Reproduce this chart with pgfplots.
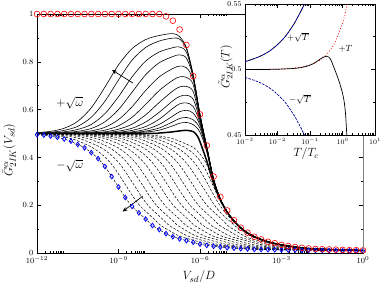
\documentclass[border=0pt]{standalone}
\usepackage{pgfplots}
\pgfplotsset{compat=1.18}
\usetikzlibrary{arrows.meta}
\begin{document}
\begin{tikzpicture}
\useasboundingbox (-37bp,-33bp) rectangle (345bp,253bp);
\begin{axis}[
  at={(0bp,0bp)}, anchor=south west, scale only axis,
  width=326bp, height=239bp,
  xmin=-12, xmax=0, ymin=0, ymax=1,
  axis line style={line width=0.7pt},
  xtick={-12,-9,-6,-3,0},
  xticklabels={$10^{-12}$,$10^{-9}$,$10^{-6}$,$10^{-3}$,$10^{0}$},
  minor xtick={-11.699,-11.523,-11.398,-11.301,-11.222,-11.155,-11.097,-11.046,
    -8.699,-8.523,-8.398,-8.301,-8.222,-8.155,-8.097,-8.046,
    -5.699,-5.523,-5.398,-5.301,-5.222,-5.155,-5.097,-5.046,
    -2.699,-2.523,-2.398,-2.301,-2.222,-2.155,-2.097,-2.046},
  ytick={0,0.2,0.4,0.6,0.8,1},
  yticklabels={0,0.2,0.4,0.6,0.8,1},
  minor ytick={0.1,0.3,0.5,0.7,0.9},
  major tick length=4bp, minor tick length=2bp,
  tick style={line width=0.5pt, black},
  tick label style={font=\fontsize{8}{9}\selectfont},
  xlabel={$V_{sd}/D$}, ylabel={$\bar{G}^{\alpha}_{2IK}(V_{sd})$},
  label style={font=\fontsize{13}{15}\selectfont},
  xlabel style={at={(axis description cs:0.497,-0.1)}, anchor=center},
  ylabel style={at={(axis description cs:-0.085,0.43)}, anchor=center},
]
% ---- dashed family (-sqrt omega)
\pgfplotsset{dsh/.style={black, line width=0.5pt, dash pattern=on 2.5pt off 1.6pt, smooth}}
\addplot[dsh] coordinates {(-12,0.495) (-11.5,0.489) (-11,0.477) (-10.5,0.454) (-10.25,0.44) (-10,0.42) (-9.75,0.395) (-9.5,0.362) (-9.25,0.32) (-9,0.276) (-8.75,0.232) (-8.5,0.195) (-8.25,0.168) (-8,0.142) (-7.75,0.115) (-7.5,0.098) (-7.25,0.081) (-7,0.068) (-6.5,0.052) (-6,0.037) (-5.5,0.028) (-5,0.022) (-4.5,0.018) (-4,0.015) (-3,0.013) (-2,0.011) (-1,0.010) (0,0.009)};
\addplot[dsh] coordinates {(-12,0.4965) (-11.69,0.495) (-11.19,0.489) (-10.69,0.477) (-10.19,0.454) (-9.94,0.44) (-9.69,0.42) (-9.44,0.395) (-9.19,0.362) (-8.94,0.32) (-8.69,0.276) (-8.44,0.232) (-8.19,0.195) (-7.94,0.168) (-7.69,0.142) (-7.44,0.115) (-7.19,0.098) (-6.94,0.081) (-6.69,0.068) (-6.19,0.052) (-5.69,0.037) (-5.19,0.028) (-4.69,0.022) (-4.19,0.018) (-3.69,0.015) (-2.69,0.013) (-1.69,0.011) (-0.69,0.010) (0,0.0097)};
\addplot[dsh] coordinates {(-12,0.4975) (-11.88,0.497) (-11.38,0.495) (-10.88,0.489) (-10.38,0.477) (-9.88,0.454) (-9.63,0.44) (-9.38,0.42) (-9.13,0.395) (-8.88,0.362) (-8.63,0.32) (-8.38,0.276) (-8.13,0.232) (-7.88,0.195) (-7.63,0.168) (-7.38,0.142) (-7.13,0.115) (-6.88,0.098) (-6.63,0.081) (-6.38,0.068) (-5.88,0.052) (-5.38,0.037) (-4.88,0.028) (-4.38,0.022) (-3.88,0.018) (-3.38,0.015) (-2.38,0.013) (-1.38,0.011) (-0.38,0.010) (0,0.0096)};
\addplot[dsh] coordinates {(-12,0.4987) (-11.57,0.497) (-11.07,0.495) (-10.57,0.489) (-10.07,0.477) (-9.57,0.454) (-9.32,0.44) (-9.07,0.42) (-8.82,0.395) (-8.57,0.362) (-8.32,0.32) (-8.07,0.276) (-7.82,0.232) (-7.57,0.195) (-7.32,0.168) (-7.07,0.142) (-6.82,0.115) (-6.57,0.098) (-6.32,0.081) (-6.07,0.068) (-5.57,0.052) (-5.07,0.037) (-4.57,0.028) (-4.07,0.022) (-3.57,0.018) (-3.07,0.015) (-2.07,0.013) (-1.07,0.011) (0,0.0099)};
\addplot[dsh] coordinates {(-12,0.4998) (-11.76,0.499) (-11.26,0.497) (-10.76,0.495) (-10.26,0.489) (-9.76,0.477) (-9.26,0.454) (-9.01,0.44) (-8.76,0.42) (-8.51,0.395) (-8.26,0.362) (-8.01,0.32) (-7.76,0.276) (-7.51,0.232) (-7.26,0.195) (-7.01,0.168) (-6.76,0.142) (-6.51,0.115) (-6.26,0.098) (-6.01,0.081) (-5.76,0.068) (-5.26,0.052) (-4.76,0.037) (-4.26,0.028) (-3.76,0.022) (-3.26,0.018) (-2.76,0.015) (-1.76,0.013) (-0.76,0.011) (0,0.0102)};
\addplot[dsh] coordinates {(-12,0.4995) (-11.45,0.499) (-10.95,0.497) (-10.45,0.495) (-9.95,0.489) (-9.45,0.477) (-8.95,0.454) (-8.7,0.44) (-8.45,0.42) (-8.2,0.395) (-7.95,0.362) (-7.7,0.32) (-7.45,0.276) (-7.2,0.232) (-6.95,0.195) (-6.7,0.168) (-6.45,0.142) (-6.2,0.115) (-5.95,0.098) (-5.7,0.081) (-5.45,0.068) (-4.95,0.052) (-4.45,0.037) (-3.95,0.028) (-3.45,0.022) (-2.95,0.018) (-2.45,0.015) (-1.45,0.013) (-0.45,0.011) (0,0.0105)};
\addplot[dsh] coordinates {(-12,0.4999) (-11.14,0.499) (-10.64,0.497) (-10.14,0.495) (-9.64,0.489) (-9.14,0.477) (-8.64,0.454) (-8.39,0.44) (-8.14,0.42) (-7.89,0.395) (-7.64,0.362) (-7.39,0.32) (-7.14,0.276) (-6.89,0.232) (-6.64,0.195) (-6.39,0.168) (-6.14,0.142) (-5.89,0.115) (-5.64,0.098) (-5.39,0.081) (-5.14,0.068) (-4.64,0.052) (-4.14,0.037) (-3.64,0.028) (-3.14,0.022) (-2.64,0.018) (-2.14,0.015) (-1.14,0.013) (0,0.011)};
\addplot[dsh] coordinates {(-12,0.5) (-10.83,0.499) (-10.33,0.497) (-9.83,0.495) (-9.33,0.489) (-8.83,0.477) (-8.33,0.454) (-8.08,0.44) (-7.83,0.42) (-7.58,0.395) (-7.33,0.362) (-7.08,0.32) (-6.83,0.276) (-6.58,0.232) (-6.33,0.195) (-6.08,0.168) (-5.83,0.142) (-5.58,0.115) (-5.33,0.098) (-5.08,0.081) (-4.83,0.068) (-4.33,0.052) (-3.83,0.037) (-3.33,0.028) (-2.83,0.022) (-2.33,0.018) (-1.83,0.0145) (-0.83,0.0125) (0,0.0105)};
\addplot[dsh] coordinates {(-12,0.5) (-10.52,0.499) (-10.02,0.497) (-9.52,0.495) (-9.02,0.489) (-8.52,0.477) (-8.02,0.454) (-7.77,0.44) (-7.52,0.42) (-7.27,0.395) (-7.02,0.362) (-6.77,0.32) (-6.52,0.276) (-6.27,0.232) (-6.02,0.195) (-5.77,0.168) (-5.52,0.142) (-5.27,0.115) (-5.02,0.098) (-4.77,0.081) (-4.52,0.066) (-4.02,0.05) (-3.52,0.036) (-3.02,0.027) (-2.52,0.0205) (-2.02,0.0165) (-1.52,0.0143) (-0.52,0.0115) (0,0.0105)};
\addplot[dsh] coordinates {(-12,0.5) (-10.21,0.499) (-9.71,0.497) (-9.21,0.495) (-8.71,0.489) (-8.21,0.477) (-7.71,0.454) (-7.46,0.44) (-7.21,0.42) (-6.96,0.395) (-6.71,0.362) (-6.46,0.32) (-6.21,0.276) (-5.96,0.232) (-5.71,0.195) (-5.46,0.168) (-5.21,0.142) (-4.96,0.113) (-4.71,0.095) (-4.46,0.077) (-4.21,0.063) (-3.71,0.048) (-3.21,0.0345) (-2.71,0.026) (-2.21,0.02) (-1.71,0.0162) (-1.21,0.0138) (-0.21,0.0108) (0,0.0105)};
\addplot[dsh] coordinates {(-12,0.5) (-10.9,0.5) (-9.9,0.499) (-9.4,0.497) (-8.9,0.495) (-8.4,0.489) (-7.9,0.477) (-7.4,0.454) (-7.15,0.44) (-6.9,0.42) (-6.65,0.395) (-6.4,0.362) (-6.15,0.32) (-5.9,0.276) (-5.65,0.232) (-5.4,0.19) (-5.15,0.158) (-4.9,0.133) (-4.65,0.108) (-4.4,0.09) (-4.15,0.072) (-3.9,0.059) (-3.4,0.042) (-2.9,0.031) (-2.4,0.0232) (-1.9,0.018) (-1.4,0.0153) (-0.9,0.0133) (0,0.0108)};
\addplot[dsh] coordinates {(-12,0.5) (-10.59,0.5) (-9.59,0.499) (-9.09,0.497) (-8.59,0.495) (-8.09,0.489) (-7.59,0.477) (-7.09,0.454) (-6.84,0.44) (-6.59,0.42) (-6.34,0.395) (-6.09,0.36) (-5.84,0.315) (-5.59,0.262) (-5.34,0.212) (-5.09,0.172) (-4.84,0.14) (-4.59,0.113) (-4.34,0.09) (-4.09,0.073) (-3.5,0.046) (-3,0.0335) (-2,0.0188) (-1,0.0139) (0,0.0109)};
\addplot[dsh] coordinates {(-12,0.5) (-10.28,0.5) (-9.28,0.499) (-8.78,0.497) (-8.28,0.495) (-7.78,0.489) (-7.28,0.477) (-6.78,0.454) (-6.53,0.44) (-6.28,0.42) (-6.03,0.39) (-5.78,0.345) (-5.53,0.285) (-5.28,0.222) (-5,0.169) (-4.75,0.132) (-4.5,0.104) (-4.25,0.083) (-4,0.0675) (-3.5,0.0465) (-3,0.0337) (-2,0.0189) (-1,0.0139) (0,0.011)};
\addplot[dsh] coordinates {(-12,0.5) (-9.97,0.5) (-8.97,0.499) (-8.47,0.497) (-7.97,0.495) (-7.47,0.489) (-6.97,0.477) (-6.47,0.454) (-6.22,0.44) (-5.97,0.41) (-5.75,0.37) (-5.5,0.29) (-5.25,0.223) (-5,0.171) (-4.75,0.133) (-4.5,0.1045) (-4.25,0.0835) (-4,0.0678) (-3.5,0.0467) (-3,0.0338) (-2,0.019) (-1,0.014) (0,0.011)};
% ---- solid family (+sqrt omega)
\pgfplotsset{sld/.style={black, line width=0.6pt, smooth}}
\addplot[sld] coordinates {(-12,0.504) (-11.5,0.509) (-11,0.522) (-10.5,0.551) (-10,0.608) (-9.5,0.694) (-9,0.787) (-8.5,0.855) (-8,0.893) (-7.5,0.910) (-7,0.918) (-6.75,0.905) (-6.5,0.86) (-6.25,0.745) (-6,0.58) (-5.75,0.445) (-5.5,0.31) (-5.25,0.225) (-5,0.172) (-4.75,0.134) (-4.5,0.105) (-4.25,0.084) (-4,0.068) (-3.5,0.047) (-3,0.034) (-2.5,0.025) (-2,0.019) (-1.5,0.016) (-1,0.014) (-0.5,0.012) (0,0.011)};
\addplot[sld] coordinates {(-12,0.502) (-11.5,0.505) (-11,0.513) (-10.5,0.530) (-10,0.568) (-9.5,0.635) (-9,0.724) (-8.5,0.807) (-8,0.860) (-7.5,0.887) (-7,0.899) (-6.75,0.895) (-6.5,0.855) (-6.25,0.742) (-6,0.579) (-5.75,0.444) (-5.5,0.309) (-5.25,0.225) (-5,0.172) (-4.75,0.134) (-4.5,0.105) (-4.25,0.084) (-4,0.068) (-3.5,0.047) (-3,0.034) (-2.5,0.025) (-2,0.019) (-1.5,0.016) (-1,0.014) (-0.5,0.012) (0,0.011)};
\addplot[sld] coordinates {(-12,0.501) (-11.5,0.503) (-11,0.507) (-10.5,0.517) (-10,0.538) (-9.5,0.583) (-9,0.654) (-8.5,0.737) (-8,0.803) (-7.5,0.841) (-7,0.859) (-6.75,0.862) (-6.5,0.84) (-6.25,0.738) (-6,0.578) (-5.75,0.443) (-5.5,0.309) (-5.25,0.225) (-5,0.172) (-4.75,0.134) (-4.5,0.105) (-4.25,0.084) (-4,0.068) (-3.5,0.047) (-3,0.034) (-2.5,0.025) (-2,0.019) (-1.5,0.016) (-1,0.014) (-0.5,0.012) (0,0.011)};
\addplot[sld] coordinates {(-12,0.501) (-11.5,0.502) (-11,0.504) (-10.5,0.509) (-10,0.521) (-9.5,0.549) (-9,0.600) (-8.5,0.673) (-8,0.746) (-7.5,0.796) (-7,0.822) (-6.75,0.829) (-6.5,0.815) (-6.25,0.735) (-6,0.575) (-5.75,0.442) (-5.5,0.308) (-5.25,0.225) (-5,0.172) (-4.75,0.134) (-4.5,0.105) (-4.25,0.084) (-4,0.068) (-3.5,0.047) (-3,0.034) (-2.5,0.025) (-2,0.019) (-1.5,0.016) (-1,0.014) (-0.5,0.012) (0,0.011)};
\addplot[sld] coordinates {(-12,0.500) (-11.5,0.501) (-11,0.502) (-10.5,0.505) (-10,0.511) (-9.5,0.526) (-9,0.558) (-8.5,0.612) (-8,0.680) (-7.5,0.737) (-7,0.772) (-6.75,0.782) (-6.5,0.775) (-6.25,0.725) (-6,0.572) (-5.75,0.441) (-5.5,0.308) (-5.25,0.225) (-5,0.172) (-4.75,0.134) (-4.5,0.105) (-4.25,0.084) (-4,0.068) (-3.5,0.047) (-3,0.034) (-2.5,0.025) (-2,0.019) (-1.5,0.016) (-1,0.014) (-0.5,0.012) (0,0.011)};
\addplot[sld] coordinates {(-12,0.500) (-11,0.501) (-10.5,0.502) (-10,0.506) (-9.5,0.514) (-9,0.532) (-8.5,0.568) (-8,0.622) (-7.5,0.680) (-7,0.723) (-6.75,0.737) (-6.5,0.735) (-6.25,0.705) (-6,0.568) (-5.75,0.44) (-5.5,0.307) (-5.25,0.225) (-5,0.172) (-4.75,0.134) (-4.5,0.105) (-4.25,0.084) (-4,0.068) (-3.5,0.047) (-3,0.034) (-2.5,0.025) (-2,0.019) (-1.5,0.016) (-1,0.014) (-0.5,0.012) (0,0.011)};
\addplot[sld] coordinates {(-12,0.500) (-10.5,0.501) (-10,0.503) (-9.5,0.507) (-9,0.518) (-8.5,0.539) (-8,0.578) (-7.5,0.630) (-7,0.678) (-6.75,0.695) (-6.5,0.697) (-6.25,0.675) (-6,0.562) (-5.75,0.438) (-5.5,0.306) (-5.25,0.225) (-5,0.172) (-4.75,0.134) (-4.5,0.105) (-4.25,0.084) (-4,0.068) (-3.5,0.047) (-3,0.034) (-2.5,0.025) (-2,0.019) (-1.5,0.016) (-1,0.014) (-0.5,0.012) (0,0.011)};
\addplot[sld] coordinates {(-12,0.500) (-10.5,0.501) (-10,0.502) (-9.5,0.504) (-9,0.510) (-8.5,0.522) (-8,0.548) (-7.5,0.589) (-7,0.637) (-6.75,0.655) (-6.5,0.66) (-6.25,0.643) (-6,0.555) (-5.75,0.436) (-5.5,0.306) (-5.25,0.225) (-5,0.172) (-4.75,0.134) (-4.5,0.105) (-4.25,0.084) (-4,0.068) (-3.5,0.047) (-3,0.034) (-2.5,0.025) (-2,0.019) (-1.5,0.016) (-1,0.014) (-0.5,0.012) (0,0.011)};
\addplot[sld] coordinates {(-12,0.500) (-10,0.501) (-9.5,0.502) (-9,0.505) (-8.5,0.513) (-8,0.529) (-7.5,0.560) (-7,0.605) (-6.75,0.624) (-6.5,0.628) (-6.25,0.613) (-6,0.545) (-5.75,0.434) (-5.5,0.305) (-5.25,0.225) (-5,0.172) (-4.75,0.134) (-4.5,0.105) (-4.25,0.084) (-4,0.068) (-3.5,0.047) (-3,0.034) (-2.5,0.025) (-2,0.019) (-1.5,0.016) (-1,0.014) (-0.5,0.012) (0,0.011)};
\addplot[sld] coordinates {(-12,0.500) (-9.5,0.501) (-9,0.503) (-8.5,0.507) (-8,0.517) (-7.5,0.538) (-7,0.573) (-6.75,0.591) (-6.5,0.597) (-6.25,0.585) (-6,0.535) (-5.75,0.431) (-5.5,0.304) (-5.25,0.225) (-5,0.172) (-4.75,0.134) (-4.5,0.105) (-4.25,0.084) (-4,0.068) (-3.5,0.047) (-3,0.034) (-2.5,0.025) (-2,0.019) (-1.5,0.016) (-1,0.014) (-0.5,0.012) (0,0.011)};
\addplot[sld] coordinates {(-12,0.500) (-9.5,0.501) (-9,0.502) (-8.5,0.504) (-8,0.510) (-7.5,0.523) (-7,0.549) (-6.75,0.563) (-6.5,0.567) (-6.25,0.557) (-6,0.522) (-5.75,0.428) (-5.5,0.303) (-5.25,0.225) (-5,0.172) (-4.75,0.134) (-4.5,0.105) (-4.25,0.084) (-4,0.068) (-3.5,0.047) (-3,0.034) (-2.5,0.025) (-2,0.019) (-1.5,0.016) (-1,0.014) (-0.5,0.012) (0,0.011)};
\addplot[sld] coordinates {(-12,0.500) (-9,0.501) (-8.5,0.5025) (-8,0.506) (-7.5,0.514) (-7,0.532) (-6.75,0.543) (-6.5,0.546) (-6.25,0.537) (-6,0.505) (-5.75,0.422) (-5.5,0.301) (-5.25,0.225) (-5,0.172) (-4.75,0.134) (-4.5,0.105) (-4.25,0.084) (-4,0.068) (-3.5,0.047) (-3,0.034) (-2.5,0.025) (-2,0.019) (-1.5,0.016) (-1,0.014) (-0.5,0.012) (0,0.011)};
% ---- thick omega = 0 curve
\addplot[black, line width=1.5pt, smooth] coordinates {(-12,0.500) (-8,0.500) (-7.5,0.502) (-7,0.507) (-6.75,0.511) (-6.5,0.513) (-6.25,0.508) (-6.1,0.49) (-6,0.465) (-5.75,0.385) (-5.5,0.292) (-5.25,0.222) (-5,0.171) (-4.75,0.134) (-4.5,0.105) (-4.25,0.084) (-4,0.068) (-3.5,0.047) (-3,0.034) (-2.5,0.025) (-2,0.019) (-1.5,0.016) (-1,0.014) (-0.5,0.012) (0,0.011)};
% ---- blue diamonds
\addplot[only marks, mark=diamond, mark size=2.3bp, mark options={draw=blue, line width=0.8pt, fill=none}] coordinates {(-12,0.495) (-11.75,0.493) (-11.5,0.489) (-11.25,0.484) (-11,0.477) (-10.75,0.468) (-10.5,0.454) (-10.25,0.44) (-10,0.42) (-9.75,0.395) (-9.5,0.362) (-9.25,0.32) (-9,0.276) (-8.75,0.232) (-8.5,0.195) (-8.25,0.168) (-8,0.142) (-7.75,0.115) (-7.5,0.098) (-7.25,0.081) (-7,0.068) (-6.75,0.059) (-6.5,0.052) (-6.25,0.045) (-6,0.037) (-5.75,0.032) (-5.5,0.028) (-5.25,0.025) (-5,0.022) (-4.75,0.02) (-4.5,0.018) (-4.25,0.017) (-4,0.015) (-3.75,0.0145) (-3.5,0.014) (-3.25,0.0135) (-3,0.013) (-2.75,0.0125) (-2.5,0.012) (-2.25,0.0115) (-2,0.011) (-1.75,0.0108) (-1.5,0.0105) (-1.25,0.0102) (-1,0.010) (-0.75,0.0098) (-0.5,0.0095) (-0.25,0.0093) (0,0.009)};
% ---- red circles
\addplot[only marks, mark=o, mark size=2.9bp, mark options={draw=red, line width=0.6pt, fill=none}] coordinates {(-12,1) (-11.75,1) (-11.5,1) (-11.25,1) (-11,1) (-10.75,1) (-10.5,1) (-10.25,1) (-10,1) (-9.75,1) (-9.5,1) (-9.25,1) (-9,1) (-8.75,1) (-8.5,1) (-8.25,1) (-8,1) (-7.75,1) (-7.5,1) (-7.25,0.99) (-7,0.972) (-6.75,0.935) (-6.5,0.87) (-6.25,0.74) (-6,0.58) (-5.75,0.45) (-5.5,0.32) (-5.25,0.235) (-5,0.178) (-4.75,0.137) (-4.5,0.106) (-4.25,0.085) (-4,0.068) (-3.75,0.057) (-3.5,0.047) (-3.25,0.041) (-3,0.034) (-2.75,0.029) (-2.5,0.025) (-2.25,0.022) (-2,0.019) (-1.75,0.017) (-1.5,0.016) (-1.25,0.015) (-1,0.014) (-0.75,0.013) (-0.5,0.012) (-0.25,0.012) (0,0.011)};
% ---- annotations
\node[font=\fontsize{13}{15}\selectfont] at (axis cs:-10.79,0.628) {$+\sqrt{\omega}$};
\node[font=\fontsize{13}{15}\selectfont] at (axis cs:-10.79,0.366) {$-\sqrt{\omega}$};
\draw[-{Stealth[length=5pt,width=4pt]}, line width=0.7pt] (axis cs:-8.47,0.711) -- (axis cs:-9.24,0.766);
\draw[-{Stealth[length=5pt,width=4pt]}, line width=0.7pt] (axis cs:-8.11,0.238) -- (axis cs:-8.85,0.173);
\end{axis}
\draw[gray, line width=0.7pt] (326bp,0bp) -- (326bp,118bp);
% ---- inset
\begin{axis}[
  at={(208bp,118bp)}, anchor=south west, scale only axis,
  width=130bp, height=131bp,
  xmin=-3, xmax=1, ymin=0.45, ymax=0.55,
  axis background/.style={fill=white},
  axis line style={line width=0.7pt},
  xtick={-3,-2,-1,0,1},
  xticklabels={$10^{-3}$,$10^{-2}$,$10^{-1}$,$10^{0}$,$10^{1}$},
  minor xtick={-2.699,-2.523,-2.398,-2.301,-2.222,-2.155,-2.097,-2.046,
    -1.699,-1.523,-1.398,-1.301,-1.222,-1.155,-1.097,-1.046,
    -0.699,-0.523,-0.398,-0.301,-0.222,-0.155,-0.097,-0.046,
    0.301,0.477,0.602,0.699,0.778,0.845,0.903,0.954},
  ytick={0.45,0.5,0.55},
  yticklabels={0.45,0.5,0.55},
  minor ytick={0.475,0.525},
  major tick length=4bp, minor tick length=2bp,
  tick style={line width=0.5pt, black},
  tick label style={font=\fontsize{7.5}{8.5}\selectfont},
  xlabel={$T/T_c$}, ylabel={$\tilde{G}^{\alpha}_{2IK}(T)$},
  label style={font=\fontsize{12}{14}\selectfont},
  xlabel style={at={(axis description cs:0.47,-0.14)}, anchor=center},
  ylabel style={at={(axis description cs:-0.15,0.52)}, anchor=center},
]
\addplot[red, line width=0.8pt, dotted, smooth] coordinates {(-3,0.5) (-2,0.5004) (-1.5,0.5011) (-1.25,0.502) (-1,0.5035) (-0.75,0.5063) (-0.5,0.5112) (-0.25,0.5199) (0,0.5354) (0.1,0.5446) (0.15,0.55)};
\addplot[black, line width=0.7pt, smooth] coordinates {(-3,0.5) (-2.5,0.5) (-2,0.5002) (-1.5,0.5008) (-1.25,0.5016) (-1,0.5033) (-0.85,0.5052) (-0.7,0.5077) (-0.6,0.5093) (-0.5,0.5101) (-0.42,0.5095) (-0.35,0.507) (-0.28,0.5025) (-0.2,0.4975) (-0.1,0.4905) (0,0.482) (0.06,0.474) (0.1,0.464) (0.13,0.451) (0.135,0.45)};
\addplot[black, line width=0.7pt, smooth] coordinates {(-3,0.506) (-2.75,0.508) (-2.5,0.5105) (-2.25,0.514) (-2,0.519) (-1.75,0.5255) (-1.5,0.5345) (-1.4,0.539) (-1.3,0.5435) (-1.2,0.5485) (-1.17,0.55)};
\addplot[blue, line width=0.6pt, dash pattern=on 2pt off 2pt, smooth] coordinates {(-3,0.506) (-2.75,0.508) (-2.5,0.5105) (-2.25,0.514) (-2,0.519) (-1.75,0.5255) (-1.5,0.5345) (-1.4,0.539) (-1.3,0.5435) (-1.2,0.5485) (-1.17,0.55)};
\addplot[blue!60!black, line width=0.7pt, dash pattern=on 2.5pt off 1.2pt, smooth] coordinates {(-3,0.494) (-2.75,0.492) (-2.5,0.4895) (-2.25,0.486) (-2,0.481) (-1.75,0.4745) (-1.5,0.4655) (-1.4,0.461) (-1.3,0.4565) (-1.2,0.4515) (-1.17,0.45)};
\node[font=\fontsize{9}{10}\selectfont] at (axis cs:-1.37,0.5246) {$+\sqrt{T}$};
\node[font=\fontsize{9}{10}\selectfont] at (axis cs:0.09,0.5158) {$+T$};
\node[font=\fontsize{9}{10}\selectfont] at (axis cs:-1.31,0.4775) {$-\sqrt{T}$};
\end{axis}
\end{tikzpicture}
\end{document}
